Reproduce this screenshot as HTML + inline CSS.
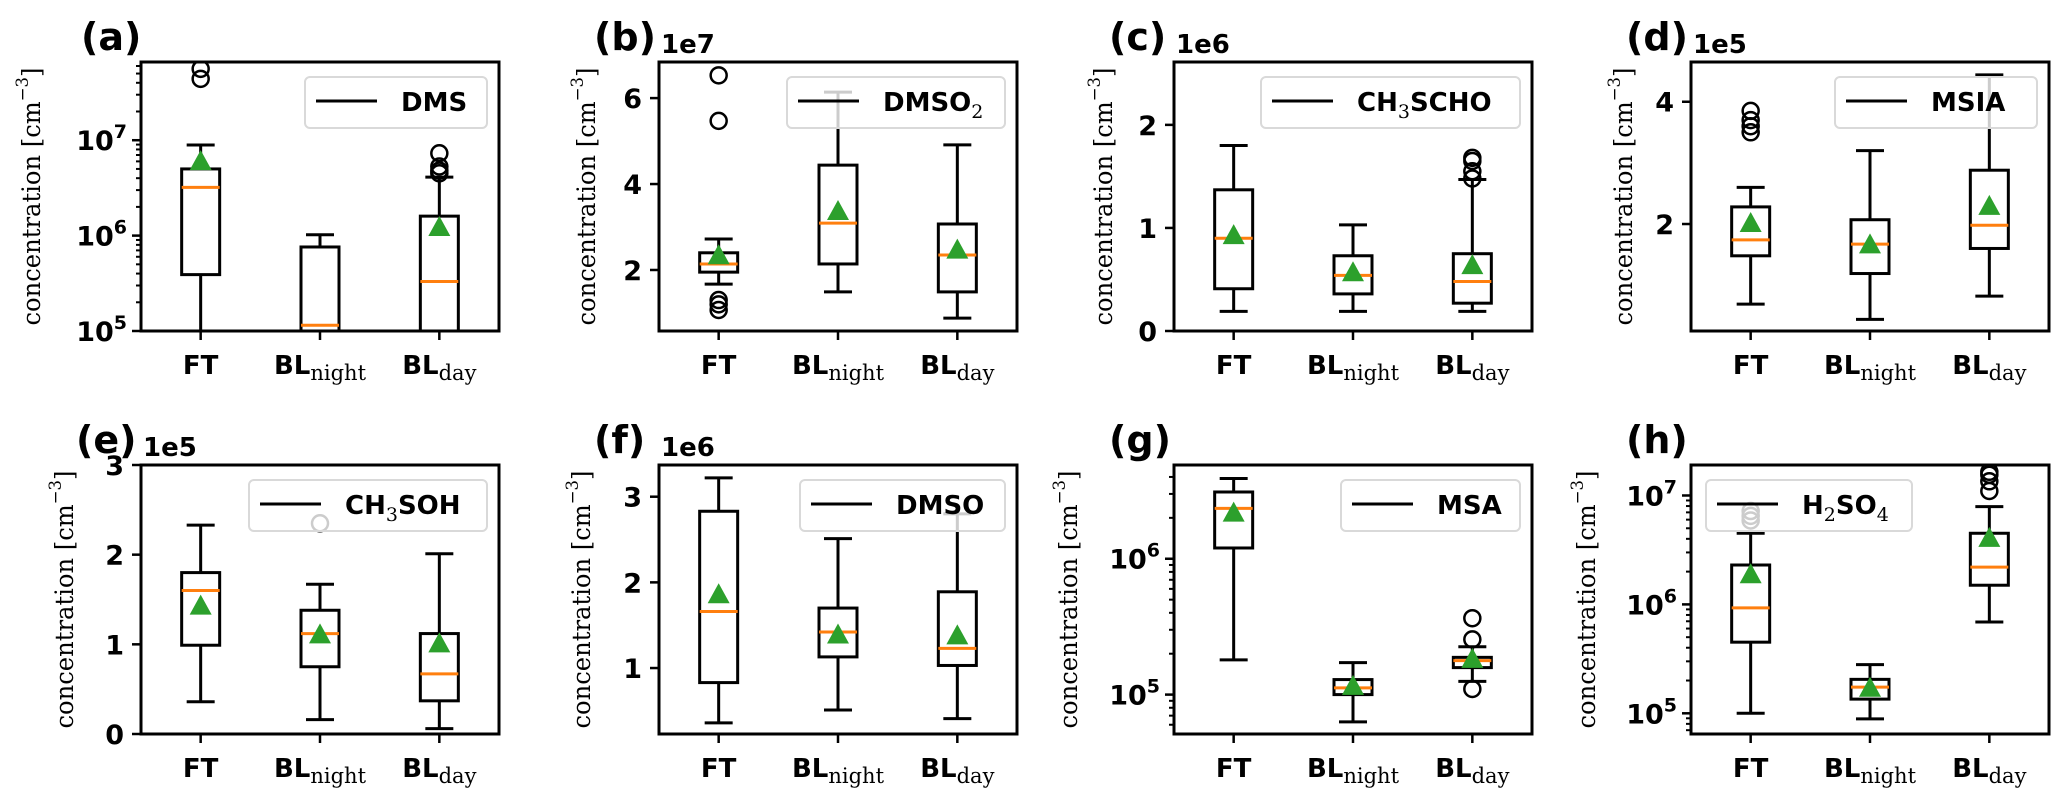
<!DOCTYPE html>
<html><head><meta charset="utf-8"><style>
html,body{margin:0;padding:0;background:#fff;}
svg{display:block;}
.tk{font-family:"DejaVu Sans","Liberation Sans",sans-serif;font-weight:bold;font-size:27px;fill:#000;}
.sr{font-family:"DejaVu Serif","Liberation Serif",serif;fill:#000;}
</style></head><body>
<svg id="fig" width="2067" height="803" viewBox="0 0 2067 803" xmlns="http://www.w3.org/2000/svg"></svg>
<script>
// ---- data (per panel, per category: FT, BL_night, BL_day) ----
const categories = ["FT", "BLnight", "BLday"];
const species = ["DMS", "DMSO2", "CH3SCHO", "MSIA", "CH3SOH", "DMSO", "MSA", "H2SO4"];
const whisLow = [
  [1e4, 1e4, 1e4],
  [1.67e7, 1.49e7, 0.88e7],
  [0.19e6, 0.19e6, 0.19e6],
  [0.69e5, 0.44e5, 0.82e5],
  [0.36e5, 0.16e5, 0.06e5],
  [0.36e6, 0.51e6, 0.41e6],
  [1.8e5, 6.3e4, 1.25e5],
  [1.0e5, 8.9e4, 6.9e5]
];
const q1 = [
  [3.9e5, 5e4, 5e4],
  [1.95e7, 2.14e7, 1.49e7],
  [0.41e6, 0.36e6, 0.27e6],
  [1.48e5, 1.19e5, 1.6e5],
  [0.99e5, 0.75e5, 0.37e5],
  [0.83e6, 1.13e6, 1.03e6],
  [1.2e6, 1.0e5, 1.58e5],
  [4.5e5, 1.35e5, 1.5e6]
];
const median = [
  [3.2e6, 1.15e5, 3.3e5],
  [2.14e7, 3.09e7, 2.35e7],
  [0.9e6, 0.54e6, 0.48e6],
  [1.74e5, 1.67e5, 1.98e5],
  [1.6e5, 1.12e5, 0.67e5],
  [1.66e6, 1.42e6, 1.23e6],
  [2.35e6, 1.12e5, 1.78e5],
  [9.3e5, 1.74e5, 2.2e6]
];
const q3 = [
  [5.0e6, 7.6e5, 1.6e6],
  [2.4e7, 4.44e7, 3.07e7],
  [1.37e6, 0.73e6, 0.75e6],
  [2.28e5, 2.07e5, 2.88e5],
  [1.8e5, 1.38e5, 1.12e5],
  [2.83e6, 1.70e6, 1.89e6],
  [3.1e6, 1.29e5, 1.88e5],
  [2.3e6, 2.05e5, 4.5e6]
];
const whisHigh = [
  [8.9e6, 1.02e6, 4.1e6],
  [2.72e7, 6.14e7, 4.91e7],
  [1.80e6, 1.03e6, 1.47e6],
  [2.6e5, 3.2e5, 4.44e5],
  [2.33e5, 1.67e5, 2.01e5],
  [3.22e6, 2.51e6, 2.8e6],
  [3.9e6, 1.72e5, 2.25e5],
  [4.5e6, 2.8e5, 7.9e6]
];
const means = [
  [5.9e6, null, 1.2e6],
  [2.32e7, 3.35e7, 2.45e7],
  [0.92e6, 0.56e6, 0.63e6],
  [2.0e5, 1.65e5, 2.28e5],
  [1.42e5, 1.1e5, 1.0e5],
  [1.85e6, 1.38e6, 1.37e6],
  [2.15e6, 1.14e5, 1.8e5],
  [1.85e6, 1.68e5, 4.0e6]
];
const outliers = [
  [[5.6e7, 4.4e7], [], [7.3e6, 5.3e6, 4.8e6, 4.5e6]],
  [[6.53e7, 5.47e7, 1.3e7, 1.07e7, 1.2e7], [], []],
  [[], [], [1.48e6, 1.55e6, 1.65e6, 1.68e6]],
  [[3.5e5, 3.6e5, 3.7e5, 3.85e5], [], []],
  [[], [2.35e5], []],
  [[], [], []],
  [[], [], [3.65e5, 2.55e5, 1.1e5]],
  [[7.2e6, 6.5e6, 5.9e6], [], [1.1e7, 1.35e7, 1.55e7, 1.65e7]]
];
// y-axis ranges and ticks
const yMin = [1e5, 0.58e7, 0, 0.25e5, 0, 0.23e6, Math.pow(10,4.71), Math.pow(10,4.81)];
const yMax = [Math.pow(10,7.82), 6.84e7, 2.61e6, 4.65e5, 3e5, 3.37e6, Math.pow(10,6.69), Math.pow(10,7.28)];
const yTicks = [
  [1e5, 1e6, 1e7], [2e7, 4e7, 6e7], [0, 1e6, 2e6], [2e5, 4e5],
  [0, 1e5, 2e5, 3e5], [1e6, 2e6, 3e6], [1e5, 1e6], [1e5, 1e6, 1e7]
];
const panelLetters = ["(a)", "(b)", "(c)", "(d)", "(e)", "(f)", "(g)", "(h)"];
const offsetTexts = ["", "1e7", "1e6", "1e5", "1e5", "1e6", "", ""];

// ---- layout (not data) ----
const isLog = [true, false, false, false, false, false, true, true];
const mult = [1, 1e7, 1e6, 1e5, 1e5, 1e6, 1, 1];
const colLeft = [141, 659, 1174, 1691];
const W = 358;
const rowTop = [62, 465], H = 269;
const legendW = [182, 218, 259, 202, 238, 205, 179, 206];
const legendLeftAligned = [false, false, false, false, false, false, false, true];
const ylabelOffset = [108, 71, 69, 66, 75, 76, 104, 103];

const NS = "http://www.w3.org/2000/svg";
const svg = document.getElementById("fig");
function mk(tag, attrs, parent) {
  const e = document.createElementNS(NS, tag);
  for (const k in attrs) e.setAttribute(k, attrs[k]);
  (parent || svg).appendChild(e);
  return e;
}
const defs = mk("defs", {});

function legendLabel(t, name) {
  const subs = {DMSO2: ["DMSO", "2", ""], CH3SCHO: ["CH", "3", "SCHO"], CH3SOH: ["CH", "3", "SOH"], H2SO4: ["H", "2", "SO", "4"]};
  if (!subs[name]) { t.textContent = name; return; }
  const parts = subs[name];
  parts.forEach((p, i) => {
    if (p === "") return;
    const ts = document.createElementNS(NS, "tspan");
    ts.textContent = p;
    if (i % 2 === 1) {
      ts.setAttribute("class", "sr");
      ts.setAttribute("style", "font-weight:normal;font-size:19px");
      ts.setAttribute("dy", "7");
    } else if (i > 0) {
      ts.setAttribute("dy", "-7");
    }
    t.appendChild(ts);
  });
}

for (let p = 0; p < 8; p++) {
  const L = colLeft[p % 4], T = rowTop[Math.floor(p / 4)], B = T + H, R = L + W;
  const g = mk("g", {});
  
  
  const lo = isLog[p] ? Math.log10(yMin[p]) : yMin[p];
  const hi = isLog[p] ? Math.log10(yMax[p]) : yMax[p];
  const ys = v => B - ((isLog[p] ? Math.log10(v) : v) - lo) / (hi - lo) * H;
  const xs = i => L + (i + 0.5) / 3 * W;

  const cp = mk("clipPath", {id: "clip" + p}, defs);
  mk("rect", {x: L, y: T, width: W, height: H}, cp);
  const plot = mk("g", {"clip-path": "url(#clip" + p + ")"}, g);
  
  

  for (let i = 0; i < 3; i++) {
    const x = xs(i);
    const bg = mk("g", {}, plot);
    
    
    const sw = 3;
    mk("line", {x1: x, x2: x, y1: ys(whisLow[p][i]), y2: ys(q1[p][i]), stroke: "#000", "stroke-width": sw}, bg);
    mk("line", {x1: x, x2: x, y1: ys(q3[p][i]), y2: ys(whisHigh[p][i]), stroke: "#000", "stroke-width": sw}, bg);
    mk("line", {x1: x - 14, x2: x + 14, y1: ys(whisLow[p][i]), y2: ys(whisLow[p][i]), stroke: "#000", "stroke-width": sw}, bg);
    mk("line", {x1: x - 14, x2: x + 14, y1: ys(whisHigh[p][i]), y2: ys(whisHigh[p][i]), stroke: "#000", "stroke-width": sw}, bg);
    const yq3 = ys(q3[p][i]), yq1 = ys(q1[p][i]);
    mk("rect", {x: x - 19, y: yq3, width: 38, height: Math.max(0, yq1 - yq3), fill: "none", stroke: "#000", "stroke-width": sw}, bg);
    mk("line", {x1: x - 19, x2: x + 19, y1: ys(median[p][i]), y2: ys(median[p][i]), stroke: "#ff7f0e", "stroke-width": 3}, bg);
    outliers[p][i].forEach(v => {
      const c = mk("circle", {cx: x, cy: ys(v), r: 8, fill: "none", stroke: "#000", "stroke-width": 2.5}, bg);
      
      
    });
    if (means[p][i] !== null) {
      const m = ys(means[p][i]);
      const tri = mk("polygon", {points: `${x},${m - 12} ${x - 11},${m + 8} ${x + 11},${m + 8}`, fill: "#2ca02c"}, bg);
      
      
    }
  }

  // legend
  const lx = legendLeftAligned[p] ? L + 15 : R - 12 - legendW[p];
  const ly = T + 15;
  const lg = mk("g", {}, g);
  
  
  mk("rect", {x: lx, y: ly, width: legendW[p], height: 51, rx: 5, fill: "#fff", "fill-opacity": 0.8, stroke: "#d9d9d9", "stroke-width": 2}, lg);
  mk("line", {x1: lx + 11, x2: lx + 72, y1: ly + 24, y2: ly + 24, stroke: "#000", "stroke-width": 3}, lg);
  const lt = mk("text", {x: lx + 96, y: ly + 34, class: "tk", style: "font-size:26px"}, lg);
  
  
  legendLabel(lt, species[p]);

  // frame
  const fr = mk("rect", {x: L, y: T, width: W, height: H, fill: "none", stroke: "#000", "stroke-width": 3}, g);
  
  

  // y ticks
  const ya = mk("g", {}, g);
  
  
  if (isLog[p]) {
    for (let d = Math.floor(lo); d <= Math.ceil(hi); d++) {
      for (let k = 2; k <= 9; k++) {
        const v = k * Math.pow(10, d), lv = Math.log10(v);
        if (lv < lo || lv > hi) continue;
        mk("line", {x1: L - 5, x2: L, y1: ys(v), y2: ys(v), stroke: "#000", "stroke-width": 2}, ya);
      }
    }
  }
  yTicks[p].forEach(v => {
    const y = ys(v);
    mk("line", {x1: L - 9, x2: L, y1: y, y2: y, stroke: "#000", "stroke-width": 2.5}, ya);
    const t = mk("text", {x: L - 17, y: y + 10, "text-anchor": "end", class: "tk"}, ya);
    
    
    if (isLog[p]) {
      const e = Math.round(Math.log10(v));
      const a = document.createElementNS(NS, "tspan"); a.textContent = "10"; t.appendChild(a);
      const b = document.createElementNS(NS, "tspan"); b.textContent = String(e);
      b.setAttribute("dy", "-12"); b.setAttribute("style", "font-size:19px"); t.appendChild(b);
      t.setAttribute("x", L - 14);
    } else {
      t.textContent = String(Math.round(v / mult[p] * 10) / 10);
    }
  });

  // x ticks
  const xa = mk("g", {}, g);
  
  
  for (let i = 0; i < 3; i++) {
    const x = xs(i);
    mk("line", {x1: x, x2: x, y1: B, y2: B + 9, stroke: "#000", "stroke-width": 2.5}, xa);
    const t = mk("text", {x: x, y: B + 43, "text-anchor": "middle", class: "tk", style: "font-size:26px"}, xa);
    
    
    if (i === 0) t.textContent = "FT";
    else {
      const a = document.createElementNS(NS, "tspan"); a.textContent = "BL"; t.appendChild(a);
      const b = document.createElementNS(NS, "tspan"); b.textContent = i === 1 ? "night" : "day";
      b.setAttribute("class", "sr"); b.setAttribute("dy", "6"); b.setAttribute("style", "font-weight:normal;font-size:21px");
      t.appendChild(b);
    }
  }

  // y label
  const cy = (T + B) / 2;
  const cx = L - ylabelOffset[p];
  const yl = mk("text", {x: cx, y: cy, transform: `rotate(-90 ${cx} ${cy})`, "text-anchor": "middle", class: "sr", style: "font-size:25px", textLength: 258, lengthAdjust: "spacingAndGlyphs", "dominant-baseline": "middle"}, g);
  
  
  const y1 = document.createElementNS(NS, "tspan"); y1.textContent = "concentration [cm"; yl.appendChild(y1);
  const y2 = document.createElementNS(NS, "tspan"); y2.textContent = "\u22123"; y2.setAttribute("dy", "-10"); y2.setAttribute("style", "font-size:17px"); yl.appendChild(y2);
  const y3 = document.createElementNS(NS, "tspan"); y3.textContent = "]"; y3.setAttribute("dy", "10"); yl.appendChild(y3);

  // panel letter
  const pl = mk("text", {x: L - (p === 0 ? 60 : 65), y: T - 12, class: "tk", style: "font-size:38px"}, g);
  
  
  pl.textContent = panelLetters[p];
  if (offsetTexts[p]) {
    const ot = mk("text", {x: L + 2, y: T - 9, class: "tk", style: "font-size:26px"}, g);
    
    
    ot.textContent = offsetTexts[p];
  }
}
</script>
</body></html>
